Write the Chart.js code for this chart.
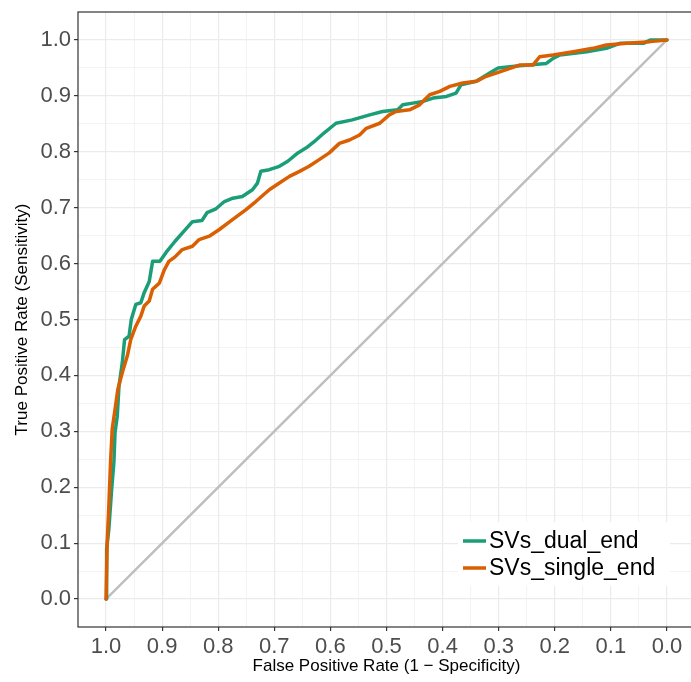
<!DOCTYPE html>
<html>
<head>
<meta charset="utf-8">
<script src="https://cdn.jsdelivr.net/npm/chart.js@4.4.0/dist/chart.umd.min.js"></script>
<style>
  html, body { margin: 0; padding: 0; background: #fff; overflow: hidden; }
  #wrap { width: 720px; height: 682px; }
</style>
</head>
<body>
<div id="wrap"><canvas id="myChart"></canvas></div>
<script>
// ROC curves, x axis = specificity (reversed), y = sensitivity
const seriesNames = ['SVs_dual_end', 'SVs_single_end'];
const seriesColors = ['#1b9e77', '#d95f02'];

const dualSpec = [1.000, 0.999, 0.995, 0.990, 0.986, 0.984, 0.980, 0.977, 0.971, 0.967, 0.959, 0.955, 0.947, 0.938, 0.932, 0.923, 0.917, 0.904, 0.893, 0.877, 0.861, 0.846, 0.829, 0.820, 0.804, 0.789, 0.774, 0.757, 0.739, 0.730, 0.724, 0.709, 0.691, 0.676, 0.658, 0.643, 0.629, 0.611, 0.590, 0.561, 0.530, 0.507, 0.480, 0.471, 0.453, 0.435, 0.417, 0.393, 0.376, 0.367, 0.340, 0.316, 0.301, 0.263, 0.215, 0.203, 0.191, 0.143, 0.108, 0.084, 0.042, 0.030, 0.000];
const dualSens = [0.000, 0.089, 0.125, 0.196, 0.245, 0.298, 0.327, 0.380, 0.423, 0.464, 0.470, 0.500, 0.527, 0.530, 0.548, 0.568, 0.604, 0.604, 0.620, 0.640, 0.658, 0.675, 0.677, 0.691, 0.698, 0.711, 0.717, 0.720, 0.732, 0.744, 0.765, 0.768, 0.774, 0.783, 0.798, 0.807, 0.818, 0.834, 0.851, 0.857, 0.866, 0.872, 0.875, 0.884, 0.887, 0.890, 0.896, 0.899, 0.905, 0.920, 0.926, 0.941, 0.950, 0.954, 0.958, 0.967, 0.973, 0.979, 0.985, 0.994, 0.994, 1.000, 1.000];

const singleSpec = [1.000, 0.998, 0.995, 0.992, 0.989, 0.984, 0.979, 0.971, 0.962, 0.956, 0.947, 0.938, 0.932, 0.923, 0.917, 0.905, 0.896, 0.888, 0.877, 0.864, 0.846, 0.834, 0.816, 0.798, 0.774, 0.751, 0.733, 0.709, 0.691, 0.673, 0.655, 0.638, 0.620, 0.602, 0.584, 0.566, 0.548, 0.536, 0.512, 0.495, 0.483, 0.459, 0.441, 0.423, 0.405, 0.387, 0.364, 0.340, 0.322, 0.298, 0.263, 0.239, 0.227, 0.203, 0.167, 0.132, 0.108, 0.072, 0.030, 0.000];
const singleSens = [0.000, 0.100, 0.167, 0.244, 0.304, 0.339, 0.375, 0.405, 0.435, 0.464, 0.488, 0.506, 0.524, 0.533, 0.554, 0.565, 0.589, 0.604, 0.612, 0.625, 0.631, 0.643, 0.649, 0.661, 0.679, 0.696, 0.711, 0.732, 0.744, 0.756, 0.765, 0.774, 0.786, 0.798, 0.815, 0.821, 0.830, 0.842, 0.851, 0.866, 0.872, 0.875, 0.884, 0.902, 0.908, 0.917, 0.923, 0.926, 0.935, 0.943, 0.955, 0.955, 0.970, 0.973, 0.979, 0.985, 0.991, 0.994, 0.997, 1.000];

// chance line
const diagSpec = [1.0, 0.0];
const diagSens = [0.0, 1.0];

const majorTicks = [0.0, 0.1, 0.2, 0.3, 0.4, 0.5, 0.6, 0.7, 0.8, 0.9, 1.0];
const minorTicks = [0.05, 0.15, 0.25, 0.35, 0.45, 0.55, 0.65, 0.75, 0.85, 0.95];

function toPoints(xs, ys) {
    return xs.map((x, i) => ({x: x, y: ys[i]}));
}

function isMajor(v) {
    return majorTicks.some(t => Math.abs(t - v) < 1e-6);
}

function setTicks(scale) {
    scale.ticks = majorTicks.concat(minorTicks)
        .sort((a, b) => a - b)
        .map(v => ({value: v}));
}

const gridOpts = {
    color: '#ebebeb',
    lineWidth: ctx => isMajor(ctx.tick.value) ? 1.2 : 0.6,
    tickColor: ctx => isMajor(ctx.tick.value) ? '#333333' : 'rgba(0,0,0,0)',
    tickLength: 4,
    drawTicks: true
};

const tickFont = {size: 22};
const titleFont = {size: 17};

// panel border + legend drawn inside the panel
const panelExtras = {
    id: 'panelExtras',
    afterDatasetsDraw(chart) {
        const {ctx, chartArea} = chart;
        ctx.save();
        ctx.strokeStyle = '#333333';
        ctx.lineWidth = 1.2;
        ctx.strokeRect(chartArea.left, chartArea.top, chartArea.width, chartArea.height);

        let bx = chartArea.right - 237;
        let by = chartArea.bottom - 105;
        ctx.fillStyle = '#ffffff';
        ctx.fillRect(bx, by, 212, 64);

        ctx.font = '23px "Liberation Sans", Arial, Helvetica, sans-serif';
        ctx.textBaseline = 'middle';
        ctx.textAlign = 'left';
        for (let i = 0; i < seriesNames.length; i++) {
            let y = chartArea.bottom - 86 + i * 27;
            ctx.strokeStyle = seriesColors[i];
            ctx.lineWidth = 3.5;
            ctx.beginPath();
            ctx.moveTo(chartArea.right - 232, y);
            ctx.lineTo(chartArea.right - 209, y);
            ctx.stroke();
            ctx.fillStyle = '#000000';
            ctx.fillText(seriesNames[i], chartArea.right - 206, y + 1);
        }
        ctx.restore();
    }
};

Chart.defaults.font.family = '"Liberation Sans", Arial, Helvetica, sans-serif';

let config = {
    type: 'line',
    data: {
        datasets: [
            {
                label: 'chance',
                data: toPoints(diagSpec, diagSens),
                borderColor: '#bebebe',
                borderWidth: 2.4,
                order: 3
            },
            {
                label: seriesNames[0],
                data: toPoints(dualSpec, dualSens),
                borderColor: seriesColors[0],
                borderWidth: 3.5,
                order: 2
            },
            {
                label: seriesNames[1],
                data: toPoints(singleSpec, singleSens),
                borderColor: seriesColors[1],
                borderWidth: 3.5,
                order: 1
            }
        ]
    },
    options: {
        responsive: true,
        maintainAspectRatio: false,
        animation: false,
        devicePixelRatio: 1,
        layout: {padding: {top: 12, right: 25, left: 0, bottom: 0}},
        elements: {
            point: {radius: 0},
            line: {tension: 0, borderJoinStyle: 'round', borderCapStyle: 'round'}
        },
        plugins: {
            legend: {display: false},
            tooltip: {enabled: false}
        },
        scales: {
            x: {
                type: 'linear',
                reverse: true,
                min: -0.05,
                max: 1.05,
                afterBuildTicks: setTicks,
                afterFit: s => { s.height = 55; s.paddingLeft = 0; s.paddingRight = 0; },
                grid: gridOpts,
                border: {display: false},
                ticks: {
                    font: tickFont,
                    color: '#4d4d4d',
                    padding: 3,
                    maxRotation: 0,
                    autoSkip: false,
                    callback: v => isMajor(v) ? v.toFixed(1) : ''
                },
                title: {
                    display: true,
                    text: 'False Positive Rate (1 \u2212 Specificity)',
                    color: '#000000',
                    font: titleFont,
                    padding: {top: 0, bottom: 5}
                }
            },
            y: {
                type: 'linear',
                min: -0.05,
                max: 1.05,
                afterBuildTicks: setTicks,
                afterFit: s => { s.width = 78; s.paddingTop = 0; s.paddingBottom = 0; },
                grid: gridOpts,
                border: {display: false},
                ticks: {
                    font: tickFont,
                    color: '#4d4d4d',
                    padding: 3,
                    autoSkip: false,
                    callback: v => isMajor(v) ? v.toFixed(1) : ''
                },
                title: {
                    display: true,
                    text: 'True Positive Rate (Sensitivity)',
                    color: '#000000',
                    font: titleFont,
                    padding: {top: 12, bottom: 0}
                }
            }
        }
    },
    plugins: [panelExtras]
};

const ctx = document.getElementById('myChart');
window.chart = new Chart(ctx, config);
</script>
</body>
</html>
